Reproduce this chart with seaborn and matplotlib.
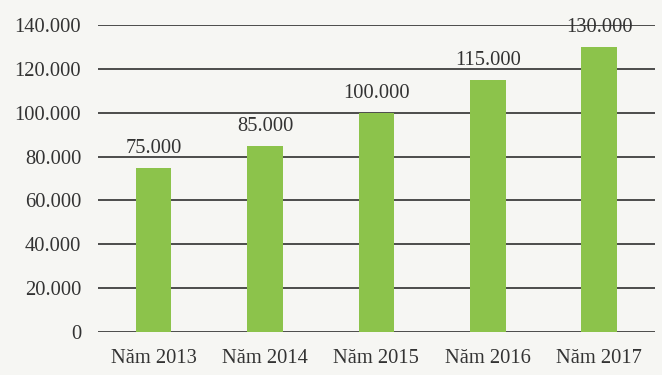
import matplotlib
matplotlib.use("Agg")
import matplotlib.pyplot as plt
import seaborn as sns
import pandas as pd

categories = ["Năm 2013", "Năm 2014", "Năm 2015", "Năm 2016", "Năm 2017"]
values = [75, 85, 100, 115, 130]
value_labels = ["75.000", "85.000", "100.000", "115.000", "130.000"]
y_ticks = [0, 20, 40, 60, 80, 100, 120, 140]
y_tick_labels = ["0", "20.000", "40.000", "60.000", "80.000", "100.000", "120.000", "140.000"]

df = pd.DataFrame({"cat": categories, "val": values})

sns.set_style("white")
plt.rcParams["font.family"] = ["Liberation Serif", "DejaVu Serif"]

bg = "#f6f6f3"
fig = plt.figure(figsize=(6.62, 3.75), dpi=100, facecolor=bg)
ax = fig.add_axes([0.148, 0.115, 0.841, 0.818], facecolor=bg)

for t in y_ticks:
    ax.axhline(t, color="#1e1e1e", lw=1.1, zorder=0)

sns.barplot(data=df, x="cat", y="val", color="#8cc34b", width=0.32,
            saturation=1, linewidth=0, ax=ax, zorder=2)

for i, (v, lab) in enumerate(zip(values, value_labels)):
    ax.text(i, v + 4.5, lab, ha="center", va="bottom", fontsize=14.8, color="#333333")

ax.set_ylim(0, 140)
ax.set_xlim(-0.5, 4.5)
ax.set_yticks(y_ticks)
ax.set_yticklabels(y_tick_labels, fontsize=14.8, color="#333333")
ax.tick_params(axis="x", labelsize=14.8, colors="#333333", length=0, pad=12)
ax.tick_params(axis="y", length=0, pad=12)
ax.set_xlabel("")
ax.set_ylabel("")
for s in ax.spines.values():
    s.set_visible(False)

fig.savefig("out.png", dpi=100, facecolor=bg)
